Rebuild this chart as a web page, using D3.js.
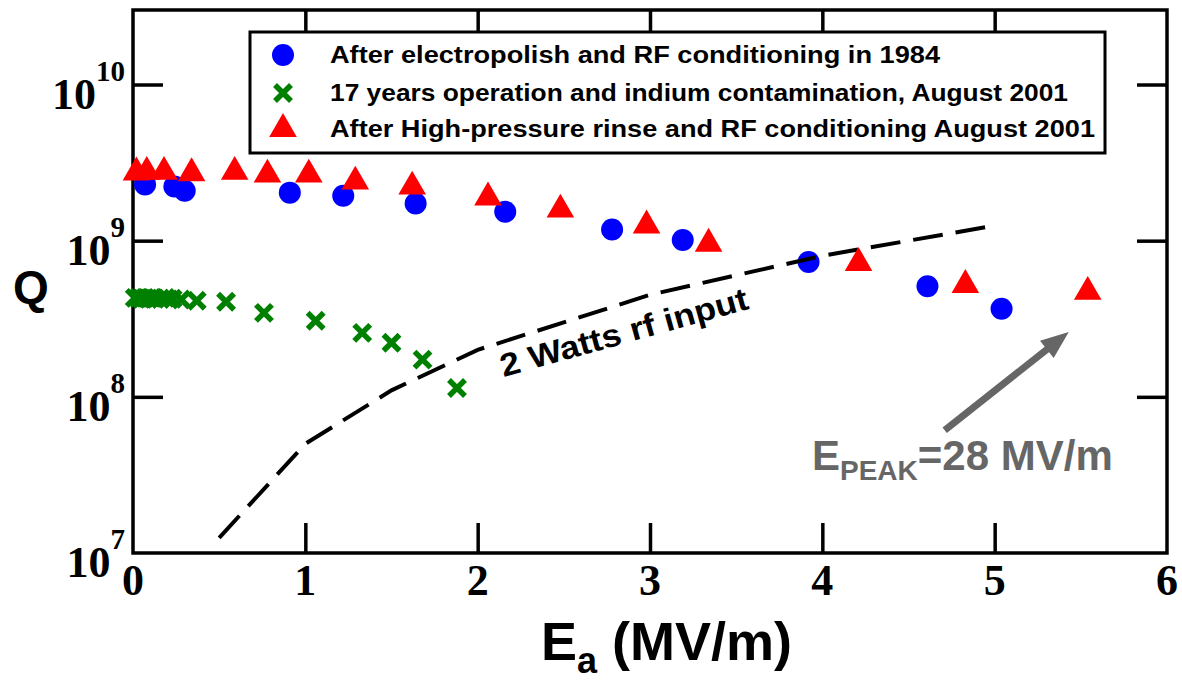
<!DOCTYPE html>
<html>
<head>
<meta charset="utf-8">
<script src="https://cdn.jsdelivr.net/npm/d3@7"></script>
<style>
  body { margin: 0; background: #fff; }
  svg { display: block; }
</style>
</head>
<body>
<div id="chart"></div>
<script>
// data
const ep1984X = [0.07, 0.24, 0.30, 0.91, 1.22, 1.64, 2.16, 2.78, 3.19, 3.92, 4.61, 5.04];
const ep1984Q = [2.29e9, 2.22e9, 2.09e9, 2.03e9, 1.94e9, 1.73e9, 1.53e9, 1.18e9, 1.01e9, 7.3e8, 5.1e8, 3.67e8];

const indiumX = [0.01, 0.03, 0.05, 0.07, 0.09, 0.11, 0.13, 0.16, 0.19, 0.23, 0.28, 0.37, 0.54, 0.76, 1.06, 1.33, 1.50, 1.68, 1.88];
const indiumQ = [4.3e8, 4.3e8, 4.25e8, 4.3e8, 4.25e8, 4.3e8, 4.25e8, 4.25e8, 4.3e8, 4.25e8, 4.2e8, 4.12e8, 4.06e8, 3.45e8, 3.07e8, 2.57e8, 2.22e8, 1.73e8, 1.14e8];

const hprX = [0.02, 0.08, 0.18, 0.34, 0.59, 0.78, 1.02, 1.29, 1.62, 2.06, 2.48, 2.98, 3.34, 4.21, 4.83, 5.54];
const hprQ = [2.73e9, 2.76e9, 2.76e9, 2.7e9, 2.76e9, 2.65e9, 2.65e9, 2.39e9, 2.22e9, 1.89e9, 1.58e9, 1.25e9, 9.56e8, 7.2e8, 5.2e8, 4.7e8];

const rf2wX = [0.5, 1, 1.5, 2, 3, 4, 5];
const rf2wQ = [1.25e7, 5.0e7, 1.1e8, 2.0e8, 4.5e8, 8.0e8, 1.25e9];

const xTicks = [0, 1, 2, 3, 4, 5, 6];
const yTicks = [1e7, 1e8, 1e9, 1e10];
const yExp = ["7", "8", "9", "10"];

const legendLabels = [
    "After electropolish and RF conditioning in 1984",
    "17 years operation and indium contamination, August 2001",
    "After High-pressure rinse and RF conditioning August 2001"
];

const width = 1182, height = 682;
const margin = { top: 10, right: 15, bottom: 129, left: 133 };
const iw = width - margin.left - margin.right;
const ih = height - margin.top - margin.bottom;

const serif = "'Liberation Serif', 'Times New Roman', serif";
const sans = "'Liberation Sans', Arial, Helvetica, sans-serif";

const svg = d3.select("#chart").append("svg")
    .attr("width", width)
    .attr("height", height);

const g = svg.append("g")
    .attr("transform", `translate(${margin.left},${margin.top})`);

const x = d3.scaleLinear().domain([0, 6]).range([0, iw]);
const y = d3.scaleLog().domain([1e7, 3e10]).range([ih, 0]);

// ticks pointing inwards on all four sides
const tickLen = 30;
g.append("g")
    .attr("transform", `translate(0,${ih})`)
    .call(d3.axisBottom(x).tickValues(xTicks.slice(1, -1)).tickSize(-tickLen).tickFormat(""));
g.append("g")
    .call(d3.axisTop(x).tickValues(xTicks.slice(1, -1)).tickSize(-tickLen).tickFormat(""));
g.append("g")
    .call(d3.axisLeft(y).tickValues(yTicks.slice(1)).tickSize(-tickLen).tickFormat(""));
g.append("g")
    .attr("transform", `translate(${iw},0)`)
    .call(d3.axisRight(y).tickValues(yTicks.slice(1)).tickSize(-tickLen).tickFormat(""));
g.selectAll(".domain").remove();
g.selectAll(".tick line").attr("stroke", "#000").attr("stroke-width", 3.5);

g.append("rect")
    .attr("width", iw)
    .attr("height", ih)
    .attr("fill", "none")
    .attr("stroke", "#000")
    .attr("stroke-width", 3.5);

// x tick labels
g.selectAll("text.xlab")
    .data(xTicks)
    .enter()
    .append("text")
    .attr("class", "xlab")
    .attr("x", d => x(d))
    .attr("y", ih + 42)
    .attr("text-anchor", "middle")
    .attr("font-family", serif)
    .attr("font-weight", "bold")
    .attr("font-size", "44px")
    .text(d => d);

// y tick labels 10^n
const ylab = g.selectAll("text.ylab")
    .data(yTicks)
    .enter()
    .append("text")
    .attr("class", "ylab")
    .attr("x", -8)
    .attr("y", d => y(d) + 24)
    .attr("text-anchor", "end")
    .attr("font-family", serif)
    .attr("font-weight", "bold")
    .attr("font-size", "44px");
ylab.append("tspan").text("10");
ylab.append("tspan")
    .attr("font-size", "29px")
    .attr("dy", -28)
    .text((d, i) => yExp[i]);

// axis titles
svg.append("text")
    .attr("x", 13)
    .attr("y", 303)
    .attr("font-family", sans)
    .attr("font-weight", "bold")
    .attr("font-size", "46px")
    .text("Q");

const xt = svg.append("text")
    .attr("x", 541)
    .attr("y", 660)
    .attr("font-family", sans)
    .attr("font-weight", "bold")
    .attr("font-size", "54px");
xt.append("tspan").text("E");
xt.append("tspan").attr("font-size", "36px").attr("dy", 13).text("a");
xt.append("tspan").attr("dy", -13).text(" (MV/m)");

// 2 W rf input line
const line = d3.line()
    .x(d => x(d[0]))
    .y(d => y(d[1]));

// series 1: blue circles
g.selectAll("circle.ep")
    .data(ep1984X.map((v, i) => [v, ep1984Q[i]]))
    .enter()
    .append("circle")
    .attr("class", "ep")
    .attr("cx", d => x(d[0]))
    .attr("cy", d => y(d[1]))
    .attr("r", 11)
    .attr("fill", "#0000ff");

// series 2: green crosses
const crossPath = "M-8,-8L8,8M-8,8L8,-8";
g.selectAll("path.ind")
    .data(indiumX.map((v, i) => [v, indiumQ[i]]))
    .enter()
    .append("path")
    .attr("class", "ind")
    .attr("transform", d => `translate(${x(d[0])},${y(d[1])})`)
    .attr("d", crossPath)
    .attr("stroke", "#008000")
    .attr("stroke-width", 5.5)
    .attr("fill", "none");

g.append("path")
    .datum(rf2wX.map((v, i) => [v, rf2wQ[i]]))
    .attr("d", line)
    .attr("fill", "none")
    .attr("stroke", "#000")
    .attr("stroke-width", 4)
    .attr("stroke-dasharray", "30,13");

// series 3: red triangles
const tri = d3.symbol().type(d3.symbolTriangle).size(330);
g.selectAll("path.hpr")
    .data(hprX.map((v, i) => [v, hprQ[i]]))
    .enter()
    .append("path")
    .attr("class", "hpr")
    .attr("transform", d => `translate(${x(d[0])},${y(d[1])})`)
    .attr("d", tri)
    .attr("fill", "#ff0000");

// annotation on the dashed line
g.append("text")
    .attr("transform", `translate(${x(2.15)},${y(1.34e8)}) rotate(-15.5)`)
    .attr("font-family", sans)
    .attr("font-weight", "bold")
    .attr("font-size", "32px")
    .attr("textLength", 256)
    .attr("lengthAdjust", "spacingAndGlyphs")
    .text("2 Watts rf input");

// arrow and peak field label
const grey = "#666666";
const ax0 = x(4.71), ay0 = y(6.1e7), ax1 = x(5.43), ay1 = y(2.6e8);
const ang = Math.atan2(ay1 - ay0, ax1 - ax0);
const headLen = 28;
g.append("line")
    .attr("x1", ax0).attr("y1", ay0)
    .attr("x2", ax1 - headLen * 0.8 * Math.cos(ang))
    .attr("y2", ay1 - headLen * 0.8 * Math.sin(ang))
    .attr("stroke", grey)
    .attr("stroke-width", 7);
g.append("path")
    .attr("transform", `translate(${ax1},${ay1}) rotate(${ang * 180 / Math.PI})`)
    .attr("d", `M0,0L${-headLen},-11L${-headLen},11Z`)
    .attr("fill", grey);

const pk = g.append("text")
    .attr("x", x(3.94))
    .attr("y", y(3.4e7))
    .attr("font-family", sans)
    .attr("font-weight", "bold")
    .attr("font-size", "42px")
    .attr("fill", grey);
pk.append("tspan").text("E");
pk.append("tspan").attr("font-size", "28px").attr("dy", 10).text("PEAK");
pk.append("tspan").attr("dy", -10).text("=28 MV/m");

// legend
const legend = svg.append("g");
legend.append("rect")
    .attr("x", 250)
    .attr("y", 32)
    .attr("width", 855)
    .attr("height", 121)
    .attr("fill", "#fff")
    .attr("stroke", "#000")
    .attr("stroke-width", 3);

const rowY = [55, 93, 129];
const rowLen = [610, 738, 765];
const lx = 283;
legend.append("circle").attr("cx", lx).attr("cy", rowY[0]).attr("r", 11).attr("fill", "#0000ff");
legend.append("path")
    .attr("transform", `translate(${lx},${rowY[1]})`)
    .attr("d", crossPath)
    .attr("stroke", "#008000")
    .attr("stroke-width", 5.5);
legend.append("path")
    .attr("transform", `translate(${lx},${rowY[2]})`)
    .attr("d", tri)
    .attr("fill", "#ff0000");

legend.selectAll("text")
    .data(legendLabels)
    .enter()
    .append("text")
    .attr("x", 330)
    .attr("y", (d, i) => rowY[i] + 8)
    .attr("font-family", sans)
    .attr("font-weight", "bold")
    .attr("font-size", "23px")
    .attr("textLength", (d, i) => rowLen[i])
    .attr("lengthAdjust", "spacingAndGlyphs")
    .text(d => d);
</script>
</body>
</html>
